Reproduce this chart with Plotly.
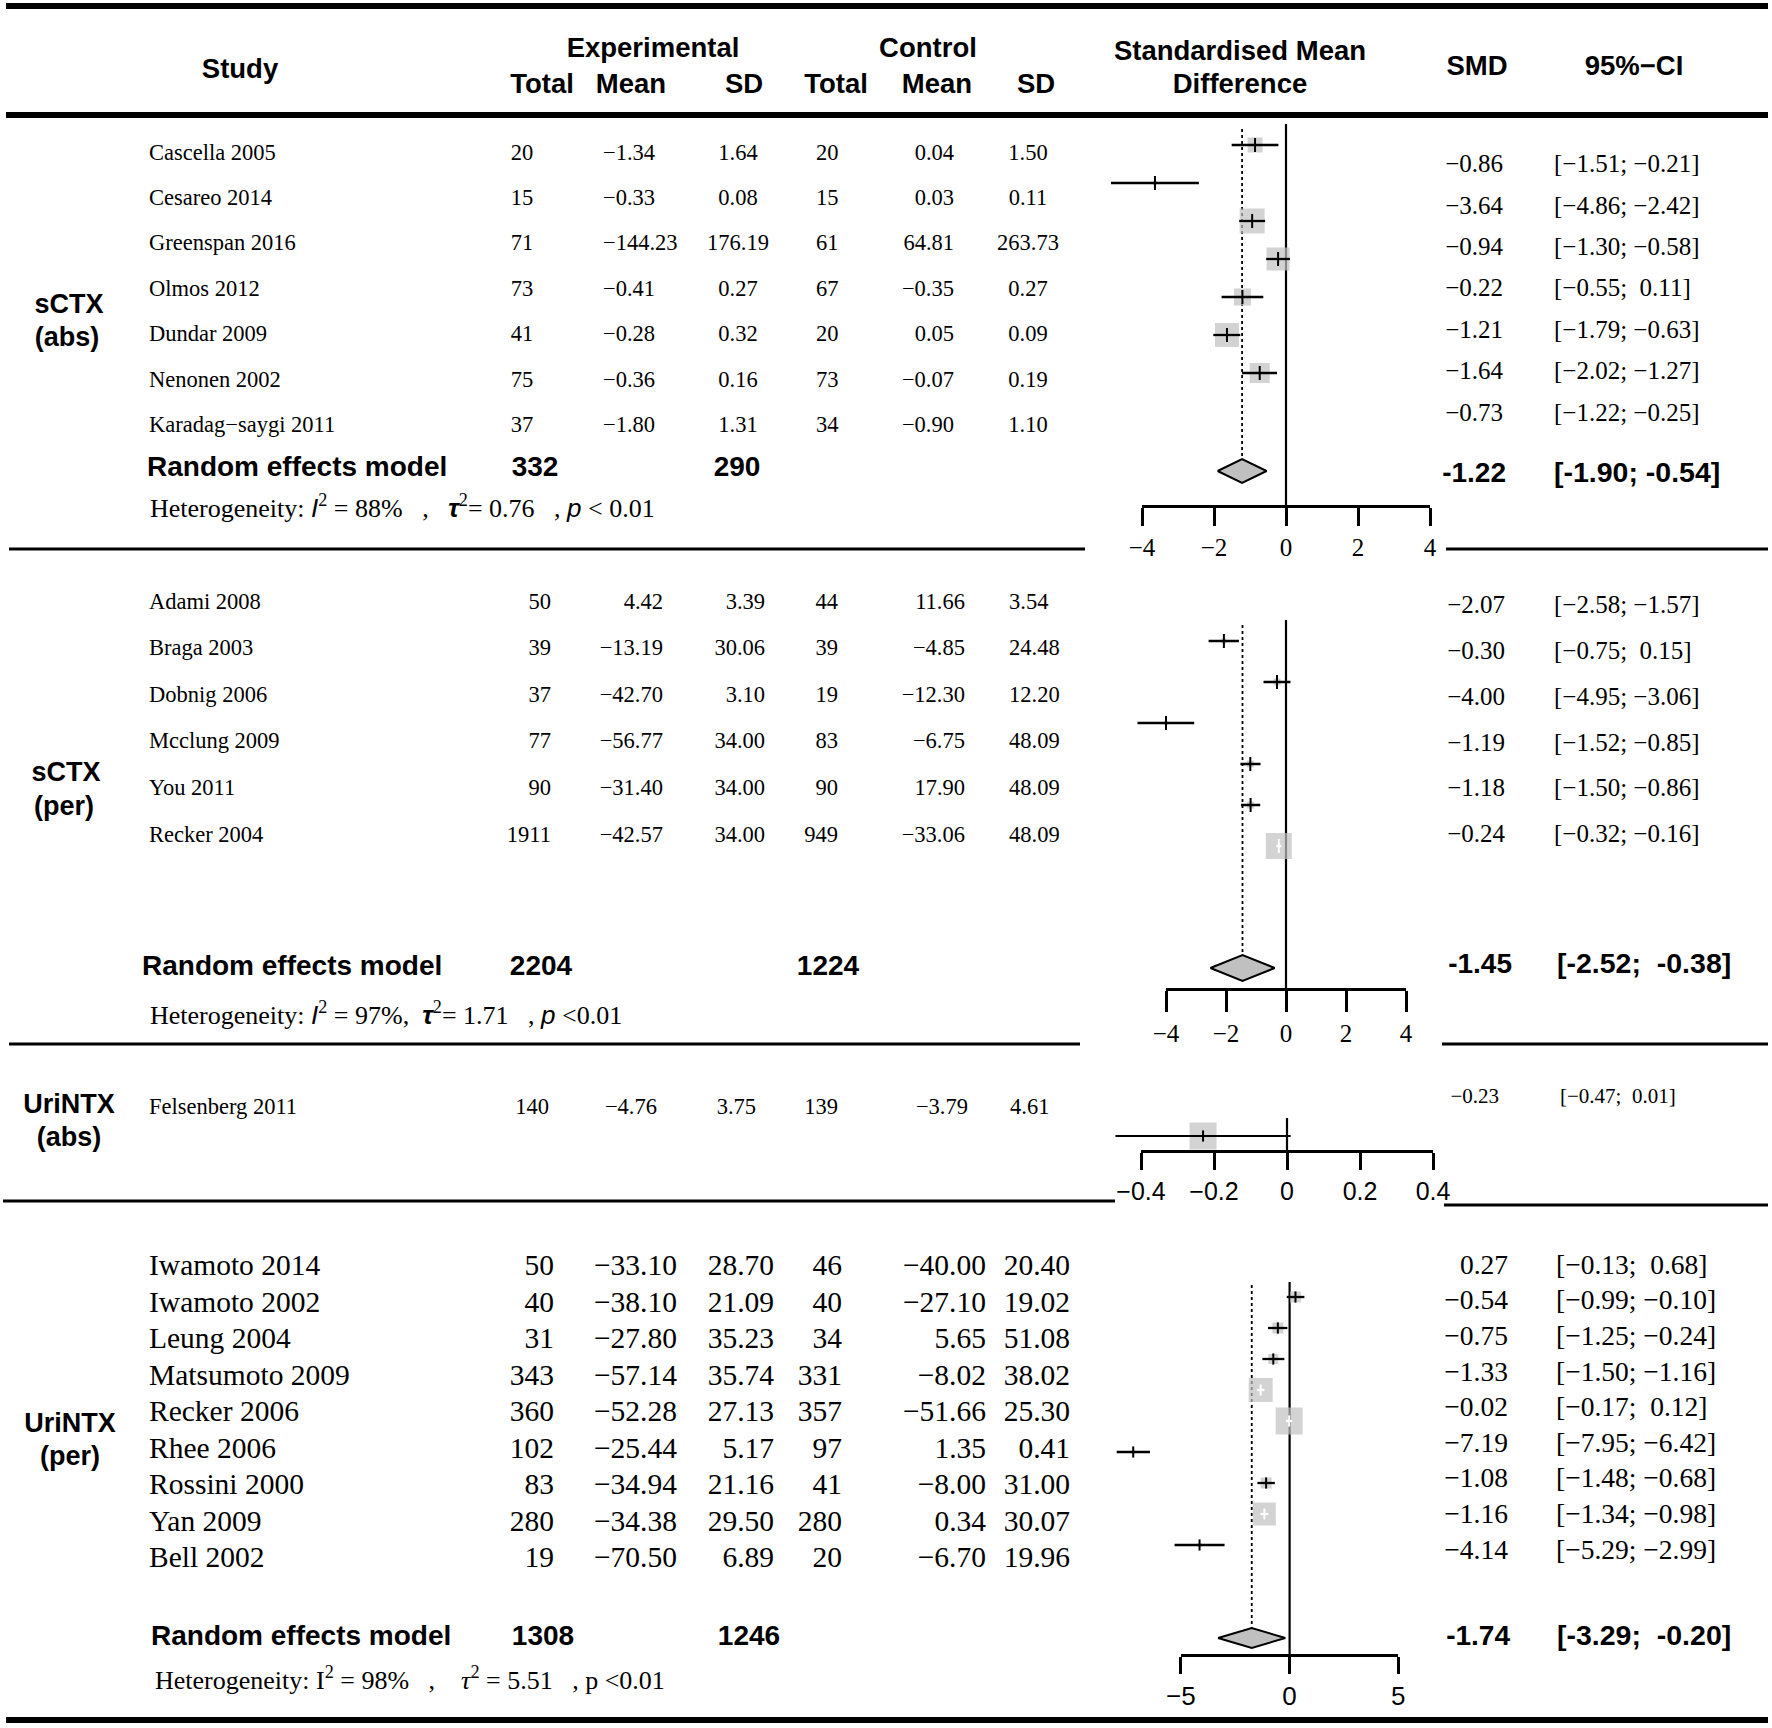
import numpy as np
import plotly.graph_objects as go

W, H = 1772, 1728
SERIF = "Liberation Serif, Times New Roman, serif"
SANS = "Liberation Sans, Arial, sans-serif"
MINUS = "\u2212"
NB = "\u00a0"

# ---------------- data ----------------
# Section 1: sCTX (abs)
s1_study = ["Cascella 2005", "Cesareo 2014", "Greenspan 2016", "Olmos 2012",
            "Dundar 2009", "Nenonen 2002", "Karadag\u2212saygi 2011"]
s1_exp_n = [20, 15, 71, 73, 41, 75, 37]
s1_exp_mean = [-1.34, -0.33, -144.23, -0.41, -0.28, -0.36, -1.80]
s1_exp_sd = [1.64, 0.08, 176.19, 0.27, 0.32, 0.16, 1.31]
s1_ctl_n = [20, 15, 61, 67, 20, 73, 34]
s1_ctl_mean = [0.04, 0.03, 64.81, -0.35, 0.05, -0.07, -0.90]
s1_ctl_sd = [1.50, 0.11, 263.73, 0.27, 0.09, 0.19, 1.10]
s1_smd = [-0.86, -3.64, -0.94, -0.22, -1.21, -1.64, -0.73]
s1_lo = [-1.51, -4.86, -1.30, -0.55, -1.79, -2.02, -1.22]
s1_hi = [-0.21, -2.42, -0.58, 0.11, -0.63, -1.27, -0.25]
s1_pooled = [-1.22, -1.90, -0.54]
s1_totals = [332, 290]
s1_het = ["88%", "0.76", "< 0.01"]

# Section 2: sCTX (per)
s2_study = ["Adami 2008", "Braga 2003", "Dobnig 2006", "Mcclung 2009", "You 2011", "Recker 2004"]
s2_exp_n = [50, 39, 37, 77, 90, 1911]
s2_exp_mean = [4.42, -13.19, -42.70, -56.77, -31.40, -42.57]
s2_exp_sd = [3.39, 30.06, 3.10, 34.00, 34.00, 34.00]
s2_ctl_n = [44, 39, 19, 83, 90, 949]
s2_ctl_mean = [11.66, -4.85, -12.30, -6.75, 17.90, -33.06]
s2_ctl_sd = [3.54, 24.48, 12.20, 48.09, 48.09, 48.09]
s2_smd = [-2.07, -0.30, -4.00, -1.19, -1.18, -0.24]
s2_lo = [-2.58, -0.75, -4.95, -1.52, -1.50, -0.32]
s2_hi = [-1.57, 0.15, -3.06, -0.85, -0.86, -0.16]
s2_pooled = [-1.45, -2.52, -0.38]
s2_totals = [2204, 1224]
s2_het = ["97%", "1.71", "<0.01"]

# Section 3: UriNTX (abs)
s3_study = ["Felsenberg 2011"]
s3_exp_n = [140]
s3_exp_mean = [-4.76]
s3_exp_sd = [3.75]
s3_ctl_n = [139]
s3_ctl_mean = [-3.79]
s3_ctl_sd = [4.61]
s3_smd = [-0.23]
s3_lo = [-0.47]
s3_hi = [0.01]

# Section 4: UriNTX (per)
s4_study = ["Iwamoto 2014", "Iwamoto 2002", "Leung 2004", "Matsumoto 2009", "Recker 2006",
            "Rhee 2006", "Rossini 2000", "Yan 2009", "Bell 2002"]
s4_exp_n = [50, 40, 31, 343, 360, 102, 83, 280, 19]
s4_exp_mean = [-33.10, -38.10, -27.80, -57.14, -52.28, -25.44, -34.94, -34.38, -70.50]
s4_exp_sd = [28.70, 21.09, 35.23, 35.74, 27.13, 5.17, 21.16, 29.50, 6.89]
s4_ctl_n = [46, 40, 34, 331, 357, 97, 41, 280, 20]
s4_ctl_mean = [-40.00, -27.10, 5.65, -8.02, -51.66, 1.35, -8.00, 0.34, -6.70]
s4_ctl_sd = [20.40, 19.02, 51.08, 38.02, 25.30, 0.41, 31.00, 30.07, 19.96]
s4_smd = [0.27, -0.54, -0.75, -1.33, -0.02, -7.19, -1.08, -1.16, -4.14]
s4_lo = [-0.13, -0.99, -1.25, -1.50, -0.17, -7.95, -1.48, -1.34, -5.29]
s4_hi = [0.68, -0.10, -0.24, -1.16, 0.12, -6.42, -0.68, -0.98, -2.99]
s4_pooled = [-1.74, -3.29, -0.20]
s4_totals = [1308, 1246]
s4_het = ["98%", "5.51", "<0.01"]

# axis ticks
p1_ticks = [-4, -2, 0, 2, 4]
p2_ticks = [-4, -2, 0, 2, 4]
p3_ticks = [-0.4, -0.2, 0, 0.2, 0.4]
p4_ticks = [-5, 0, 5]

# ---------------- styles (marker sizes in px) ----------------
p1_box_px = [15, 4, 25, 23, 17, 24, 20]
p2_box_px = [5, 7, 4, 7, 7, 26]
p3_box_px = [27]
p4_box_px = [11, 11, 10, 24, 27, 4, 11, 23, 4]
BOX = "#c0c0c0"


def fmt(v):
    return f"{v:.2f}".replace("-", MINUS)


def fmt_ci(lo, hi, gap=1):
    sep = NB * gap + (NB if hi >= 0 else "")
    return "[" + fmt(lo) + ";" + sep + fmt(hi) + "]"


def tick_text(v):
    return f"{v:g}".replace("-", MINUS)


fig = go.Figure()


def add_text(xs, ys, texts, size, family=SERIF, pos="middle right", bold=False):
    fig.add_trace(go.Scatter(
        x=list(xs), y=list(ys), text=list(texts), mode="text", textposition=pos,
        textfont=dict(family=family, size=size, color="black",
                      weight="bold" if bold else "normal"),
        xaxis="x", yaxis="y", hoverinfo="skip", showlegend=False, cliponaxis=False))


L, R, C = "middle right", "middle left", "middle center"

# ---------------- header ----------------
HF = 27.5
add_text([240], [71], ["Study"], HF, SANS, C, True)
add_text([653], [50], ["Experimental"], HF, SANS, C, True)
add_text([928], [50], ["Control"], HF, SANS, C, True)
add_text([542, 631, 744, 836, 937, 1036], [86] * 6,
         ["Total", "Mean", "SD", "Total", "Mean", "SD"], HF, SANS, C, True)
add_text([1240], [53], ["Standardised Mean"], HF, SANS, C, True)
add_text([1240], [86], ["Difference"], HF, SANS, C, True)
add_text([1477], [68], ["SMD"], HF, SANS, C, True)
add_text([1634], [68], ["95%" + MINUS + "CI"], HF, SANS, C, True)


# ---------------- left tables ----------------
def table(study, en, em, esd, cn, cm, csd, y0, dy, size, cols):
    ys = y0 + dy * np.arange(len(study))
    cols_txt = [study, [str(v) for v in en], [fmt(v) for v in em], [fmt(v) for v in esd],
                [str(v) for v in cn], [fmt(v) for v in cm], [fmt(v) for v in csd]]
    for (x, pos), txt in zip(cols, cols_txt):
        add_text([x] * len(txt), ys, txt, size, SERIF, pos)


table(s1_study, s1_exp_n, s1_exp_mean, s1_exp_sd, s1_ctl_n, s1_ctl_mean, s1_ctl_sd,
      154, 45.4, 22.5, [(149, L), (522, C), (603, L), (738, C), (816, L), (954, R), (1028, C)])
table(s2_study, s2_exp_n, s2_exp_mean, s2_exp_sd, s2_ctl_n, s2_ctl_mean, s2_ctl_sd,
      603, 46.6, 22.5, [(149, L), (551, R), (663, R), (765, R), (838, R), (965, R), (1009, L)])
table(s3_study, s3_exp_n, s3_exp_mean, s3_exp_sd, s3_ctl_n, s3_ctl_mean, s3_ctl_sd,
      1108, 40, 22.5, [(149, L), (549, R), (657, R), (756, R), (838, R), (968, R), (1010, L)])
table(s4_study, s4_exp_n, s4_exp_mean, s4_exp_sd, s4_ctl_n, s4_ctl_mean, s4_ctl_sd,
      1268, 36.5, 29.5, [(149, L), (554, R), (677, R), (774, R), (842, R), (986, R), (1070, R)])

# section labels
add_text([69, 67], [306, 339], ["sCTX", "(abs)"], 27, SANS, C, True)
add_text([66, 64], [774, 808], ["sCTX", "(per)"], 27, SANS, C, True)
add_text([69, 69], [1106, 1139], ["UriNTX", "(abs)"], 27, SANS, C, True)
add_text([70, 70], [1425, 1458], ["UriNTX", "(per)"], 27, SANS, C, True)

# random effects summary rows
add_text([147], [469], ["Random effects model"], 28, SANS, L, True)
add_text([535, 737], [469, 469], [str(v) for v in s1_totals], 28, SANS, C, True)
add_text([142], [968], ["Random effects model"], 28, SANS, L, True)
add_text([541, 828], [968, 968], [str(v) for v in s2_totals], 28, SANS, C, True)
add_text([151], [1638], ["Random effects model"], 28, SANS, L, True)
add_text([543, 749], [1638, 1638], [str(v) for v in s4_totals], 28, SANS, C, True)

IT = "<span style='font-family:Liberation Sans'><i>%s</i></span>"


def het(vals, italic=True, g1=3, g2=3):
    i_ = IT % "I" if italic else "I"
    p_ = IT % "p" if italic else "p"
    tau = "<span style='font-family:Liberation Sans'><b><i>\u03c4</i></b></span>" if italic else "<i>\u03c4</i>"
    eq = "=" if italic else NB + "="
    return ("Heterogeneity:" + NB + i_ + "<sup>2</sup>" + NB + "=" + NB + vals[0] + NB * g1 + "," + NB * g2
            + tau + "<sup>2</sup>" + eq + NB + vals[1] + NB * 3 + "," + NB + p_ + NB + vals[2])


add_text([150], [510], [het(s1_het)], 26, SERIF, L)
add_text([150], [1017], [het(s2_het, g1=0, g2=2)], 26, SERIF, L)
add_text([155], [1682], [het(s4_het, italic=False, g1=3, g2=4)], 26, SERIF, L)


# ---------------- SMD / CI columns ----------------
def smd_col(smd, lo, hi, y0, dy, xr, xl, size):
    ys = y0 + dy * np.arange(len(smd))
    add_text([xr] * len(smd), ys, [fmt(v) for v in smd], size, SERIF, R)
    add_text([xl] * len(smd), ys, [fmt_ci(a, b) for a, b in zip(lo, hi)], size, SERIF, L)


smd_col(s1_smd, s1_lo, s1_hi, 166, 41.4, 1503, 1554, 25)
smd_col(s2_smd, s2_lo, s2_hi, 607, 45.8, 1505, 1554, 25)
smd_col(s3_smd, s3_lo, s3_hi, 1098, 40, 1499, 1560, 21)
smd_col(s4_smd, s4_lo, s4_hi, 1267, 35.6, 1508, 1556, 27.5)


def pooled_txt(p, y, xr, xl, gap):
    add_text([xr], [y], [f"{p[0]:.2f}"], 28, SANS, R, True)
    add_text([xl], [y], ["[" + f"{p[1]:.2f};" + NB * gap + f"{p[2]:.2f}" + "]"], 28.5, SANS, L, True)


pooled_txt(s1_pooled, 475, 1506, 1554, 1)
pooled_txt(s2_pooled, 966, 1512, 1557, 2)
pooled_txt(s4_pooled, 1638, 1510, 1557, 2)

# ---------------- forest panels ----------------
panels = [
    dict(smd=s1_smd, lo=s1_lo, hi=s1_hi, box=p1_box_px, pooled=s1_pooled, ticks=p1_ticks,
         zero=1286, ppu=36, y0=145, dy=38, dia_y=471, dia_h=12, axis_y=506, ticklen=18,
         zero_top=124, dot_top=129, tfont=SERIF, tsize=25, cross=10, lw=2.3),
    dict(smd=s2_smd, lo=s2_lo, hi=s2_hi, box=p2_box_px, pooled=s2_pooled, ticks=p2_ticks,
         zero=1286, ppu=30, y0=641, dy=41, dia_y=968, dia_h=13, axis_y=989, ticklen=21,
         zero_top=620, dot_top=625, tfont=SERIF, tsize=25, cross=10, lw=2.5),
    dict(smd=s3_smd, lo=s3_lo, hi=s3_hi, box=p3_box_px, pooled=None, ticks=p3_ticks,
         zero=1287, ppu=365, y0=1136, dy=30, dia_y=None, dia_h=0, axis_y=1151, ticklen=17,
         zero_top=1118, dot_top=None, tfont=SANS, tsize=25, cross=8, lw=2),
    dict(smd=s4_smd, lo=s4_lo, hi=s4_hi, box=p4_box_px, pooled=s4_pooled, ticks=p4_ticks,
         zero=1289.6, ppu=21.75, y0=1297, dy=31, dia_y=1638, dia_h=10, axis_y=1655, ticklen=17,
         zero_top=1282, dot_top=1285, tfont=SANS, tsize=26, cross=8, lw=2.3),
]

layout_axes = {}
for k, p in enumerate(panels):
    xa, ya = f"x{k + 2}", f"y{k + 2}"
    xd = f"x{k + 6}"
    row = lambda px, p=p: (px - p["y0"]) / p["dy"]
    n = len(p["smd"])
    rows = np.arange(n, dtype=float)
    common = dict(xaxis=xa, yaxis=ya, hoverinfo="skip", showlegend=False)

    # zero line
    fig.add_trace(go.Scatter(x=[0, 0], y=[row(p["zero_top"]), row(p["axis_y"])], mode="lines",
                             line=dict(color="black", width=2.2), **common))
    # dotted pooled line
    if p["pooled"] is not None:
        fig.add_trace(go.Scatter(x=[p["pooled"][0]] * 2,
                                 y=[row(p["dot_top"]), row(p["dia_y"] - p["dia_h"])],
                                 mode="lines", line=dict(color="black", width=1.8, dash="dot"), **common))
    # boxes
    fig.add_trace(go.Scatter(x=p["smd"], y=rows, mode="markers",
                             marker=dict(symbol="square", size=p["box"], color=BOX, line=dict(width=0)),
                             **common))
    # CI lines (white when CI lies inside the box)
    inside = [(h - l) * p["ppu"] < b for l, h, b in zip(p["lo"], p["hi"], p["box"])]
    for flag, col in [(False, "black"), (True, "white")]:
        xs, ys = [], []
        for i in range(n):
            if inside[i] == flag:
                xs += [p["lo"][i], p["hi"][i], None]
                ys += [rows[i], rows[i], None]
        if xs:
            fig.add_trace(go.Scatter(x=xs, y=ys, mode="lines",
                                     line=dict(color=col, width=p["lw"]), **common))
    fig.add_trace(go.Scatter(x=p["smd"], y=rows, mode="markers",
                             marker=dict(symbol="line-ns", size=p["cross"],
                                         line=dict(width=2, color=["white" if f else "black" for f in inside])),
                             **common))
    # diamond
    if p["pooled"] is not None:
        est, lo, hi = p["pooled"]
        r = row(p["dia_y"])
        h = p["dia_h"] / p["dy"]
        fig.add_trace(go.Scatter(x=[lo, est, hi, est, lo], y=[r, r - h, r, r + h, r], mode="lines",
                                 fill="toself", fillcolor=BOX, line=dict(color="black", width=2), **common))

    layout_axes[f"xaxis{k + 2}"] = dict(domain=[0, 1], range=[-p["zero"] / p["ppu"], (W - p["zero"]) / p["ppu"]],
                                        visible=False, anchor=ya, fixedrange=True, automargin=False)
    layout_axes[f"yaxis{k + 2}"] = dict(domain=[0, 1], range=[row(H), row(0)],
                                        visible=False, anchor=xa, fixedrange=True, automargin=False)
    # displayed axis
    tmin, tmax = p["ticks"][0], p["ticks"][-1]
    layout_axes[f"xaxis{k + 6}"] = dict(
        domain=[(p["zero"] + tmin * p["ppu"]) / W, (p["zero"] + tmax * p["ppu"]) / W],
        range=[tmin, tmax], anchor="free", position=1 - p["axis_y"] / H,
        showline=True, linecolor="black", linewidth=2.5, ticks="outside", ticklen=p["ticklen"],
        tickwidth=2.5, tickcolor="black", tickvals=p["ticks"], ticktext=[tick_text(v) for v in p["ticks"]],
        tickfont=dict(family=p["tfont"], size=p["tsize"], color="black"),
        showgrid=False, zeroline=False, fixedrange=True, automargin=False)
    fig.add_trace(go.Scatter(x=[tmin], y=[0], xaxis=xd, yaxis="y", mode="markers",
                             marker=dict(opacity=0), hoverinfo="skip", showlegend=False))

# ---------------- rules ----------------
shapes = []
for y in [6, 115, 1720]:
    shapes.append(dict(type="line", xref="x", yref="y", x0=6, x1=1768, y0=y, y1=y,
                       line=dict(color="black", width=6)))
for x0, x1, y in [(9, 1085, 549), (1446, 1768, 549), (9, 1080, 1044), (1442, 1768, 1044),
                  (3, 1115, 1201), (1444, 1768, 1205)]:
    shapes.append(dict(type="line", xref="x", yref="y", x0=x0, x1=x1, y0=y, y1=y,
                       line=dict(color="black", width=3)))

fig.update_layout(
    width=W, height=H, margin=dict(l=0, r=0, t=0, b=0, pad=0, autoexpand=False), autosize=False,
    paper_bgcolor="white", plot_bgcolor="rgba(0,0,0,0)", showlegend=False,
    xaxis=dict(domain=[0, 1], range=[0, W], visible=False, fixedrange=True, anchor="y", automargin=False),
    yaxis=dict(domain=[0, 1], range=[H, 0], visible=False, fixedrange=True, anchor="x", automargin=False),
    shapes=shapes, **layout_axes)

fig.write_html("out.html", config={"displayModeBar": False},
               post_script="document.body.style.margin='0';")
